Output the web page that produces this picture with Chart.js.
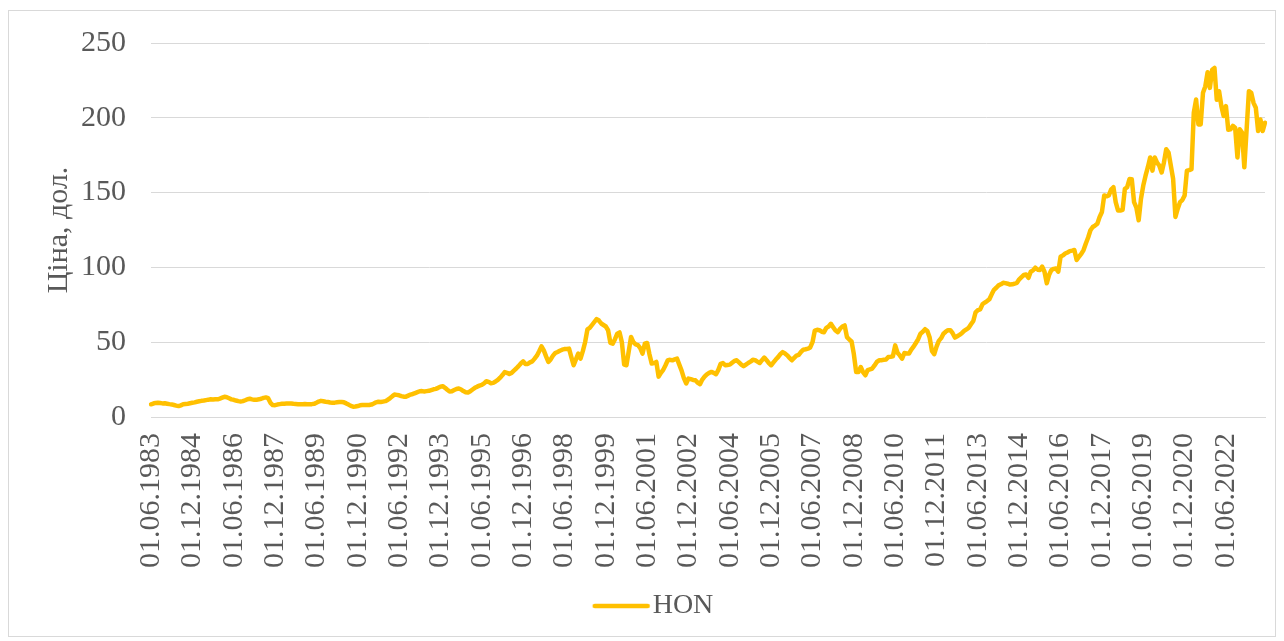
<!DOCTYPE html>
<html lang="uk">
<head>
    <meta charset="UTF-8">
    <title>HON</title>
    <script src="https://cdn.jsdelivr.net/npm/chart.js"></script>
    <style>
        html, body {
            margin: 0;
            padding: 0;
            background: #ffffff;
        }
        .chart-wrapper {
            position: relative;
            width: 1284px;
            height: 641px;
        }
    </style>
</head>
<body>
    <div class="chart-wrapper">
        <canvas id="hon-chart" width="1284" height="641"></canvas>
    </div>

    <script>
        // Перший місяць ряду та крок підписів осі X
        const firstYear = 1983;
        const firstMonth = 6;
        const labelEvery = 18;

        const seriesName = 'HON';
        const yTitle = 'Ціна, дол.';
        const yTicks = [0, 50, 100, 150, 200, 250];

        // Місячні ціни, по 12 значень у рядку (червень - травень)
        const price = [
            8.5, 9.0, 9.4, 9.5, 9.3, 9.1, 9.2, 8.9, 8.6, 8.4, 8.0, 7.6,
            7.3, 7.8, 8.5, 8.7, 8.9, 9.2, 9.5, 9.8, 10.2, 10.5, 10.8, 11.0,
            11.3, 11.6, 11.8, 11.7, 11.9, 11.8, 12.3, 12.9, 13.5, 13.2, 12.5, 11.8,
            11.5, 11.0, 10.6, 10.4, 10.6, 11.2, 11.9, 12.2, 11.8, 11.5, 11.6, 11.8,
            12.2, 12.8, 13.1, 12.6, 9.5, 8.0, 7.9, 8.3, 8.6, 8.8, 8.9, 9.0,
            9.1, 9.0, 8.8, 8.7, 8.6, 8.5, 8.6, 8.7, 8.6, 8.5, 8.6, 8.8,
            9.5, 10.3, 10.8, 10.5, 10.2, 10.0, 9.7, 9.5, 9.6, 9.8, 10.0, 10.0,
            9.8, 9.1, 8.3, 7.4, 6.9, 7.0, 7.3, 7.8, 8.0, 8.0, 8.1, 8.0,
            8.3, 9.0, 9.8, 10.2, 10.0, 10.3, 10.6, 11.4, 12.5, 13.8, 15.0, 14.8,
            14.5, 14.0, 13.6, 13.6, 14.3, 15.0, 15.4, 16.0, 16.6, 17.2, 17.3, 17.1,
            17.3, 17.5, 18.0, 18.5, 18.8, 19.5, 20.3, 20.6, 19.5, 18.2, 17.0, 17.2,
            18.0, 18.7, 19.1, 18.4, 17.3, 16.5, 16.3, 17.2, 18.4, 19.5, 20.3, 21.0,
            21.5, 22.5, 23.9, 23.5, 22.6, 22.8, 23.7, 24.8, 26.3, 28.0, 30.0, 29.5,
            28.8, 29.5, 31.0, 32.4, 34.0, 35.8, 37.2, 35.5, 35.4, 36.5, 37.2, 39.0,
            41.0, 44.0, 47.2, 44.5, 40.5, 36.8, 38.5, 41.0, 42.8, 43.5, 44.3, 45.0,
            45.4, 45.5, 45.7, 40.0, 34.6, 38.5, 42.4, 39.0, 44.0, 50.0, 58.5, 59.5,
            61.5, 63.5, 65.5, 64.5, 62.5, 61.5, 60.5, 58.0, 49.5, 49.0, 52.0, 55.7,
            56.5, 50.0, 35.0, 34.6, 44.0, 53.5, 50.0, 48.5, 48.0, 46.0, 42.4, 49.0,
            49.5, 42.0, 35.7, 36.0, 36.8, 27.0, 29.5, 31.5, 34.6, 38.0, 38.2, 37.9,
            38.5, 39.0, 35.0, 31.0, 26.0, 22.4, 25.7, 25.3, 24.8, 24.6, 23.0, 21.9,
            25.0, 27.0, 28.5, 29.5, 30.1, 29.5, 28.6, 31.5, 35.5, 36.1, 34.6, 34.8,
            35.0, 36.3, 37.5, 37.9, 36.5, 35.0, 33.9, 35.0, 36.1, 37.0, 38.2, 38.0,
            37.0, 36.1, 38.0, 39.7, 38.0, 36.0, 34.6, 36.5, 38.4, 40.0, 42.0, 43.4,
            42.5, 41.2, 39.5, 37.9, 39.5, 41.0, 41.5, 43.5, 45.0, 45.3, 45.7, 46.5,
            50.0, 57.8, 58.3, 58.0, 57.0, 56.7, 59.6, 60.5, 62.3, 60.0, 57.8, 56.7,
            59.0, 60.5, 61.2, 53.4, 51.8, 50.5, 42.0, 30.1, 30.1, 33.4, 30.0, 27.9,
            31.3, 31.8, 32.4, 34.5, 36.8, 37.9, 38.0, 38.2, 38.4, 40.1, 40.3, 40.6,
            47.9, 43.0, 41.2, 39.0, 42.8, 42.5, 42.4, 45.0, 47.0, 49.5, 52.0, 55.7,
            57.0, 58.7, 57.5, 53.1, 44.2, 42.0, 47.0, 50.9, 52.7, 55.7, 57.0, 58.0,
            58.0, 56.0, 53.1, 54.0, 54.9, 56.0, 57.5, 58.5, 59.7, 62.0, 64.2, 70.0,
            71.5, 72.0, 75.3, 76.5, 77.5, 78.7, 82.0, 85.0, 86.4, 88.0, 88.7, 89.7,
            89.5, 89.1, 88.5, 88.7, 89.2, 89.7, 92.0, 93.5, 94.9, 95.3, 93.0, 97.1,
            98.0, 99.8, 98.5, 98.3, 100.5, 97.1, 89.4, 95.0, 98.3, 99.0, 99.3, 97.1,
            107.1, 108.0, 109.3, 110.0, 110.9, 111.2, 111.6, 104.9, 107.1, 109.0, 111.6, 116.0,
            120.0, 124.8, 127.0, 128.0, 129.2, 133.7, 137.0, 148.1, 147.5, 148.1, 152.0, 153.6,
            143.6, 138.1, 138.0, 138.5, 152.5, 153.6, 159.1, 159.0, 143.6, 140.0, 131.5, 145.8,
            154.7, 161.3, 167.0, 173.5, 164.7, 173.5, 170.0, 168.0, 163.5, 170.2, 179.0, 176.8,
            168.0, 159.1, 133.7, 139.2, 143.6, 145.0, 148.1, 164.7, 165.0, 165.7, 203.4, 212.2,
            195.6, 195.6, 216.7, 221.0, 230.4, 220.0, 232.1, 233.3, 212.0, 217.8, 207.8, 201.2,
            207.8, 192.0, 192.3, 194.6, 193.4, 173.5, 192.3, 190.1, 166.9, 192.3, 217.8, 216.7,
            210.0, 206.7, 191.2, 198.9, 191.2, 196.7
        ];

        // Підписи категорій: 01.ММ.РРРР для кожного місяця
        const categories = price.map(function(_, i) {
            const t = firstYear * 12 + (firstMonth - 1) + i;
            const mm = String(t % 12 + 1).padStart(2, '0');
            return '01.' + mm + '.' + Math.floor(t / 12);
        });

        const lineColor = '#FFC000';
        const textColor = '#595959';
        const gridColor = '#d9d9d9';
        const fontFamily = "'Liberation Serif', 'Times New Roman', serif";

        // Значок легенди: коротка лінія, зсунута ближче до тексту
        const legendMark = document.createElement('canvas');
        legendMark.width = 80;
        legendMark.height = 8;
        const lm = legendMark.getContext('2d');
        lm.strokeStyle = lineColor;
        lm.lineWidth = 4.5;
        lm.lineCap = 'round';
        lm.beginPath();
        lm.moveTo(19, 4);
        lm.lineTo(72, 4);
        lm.stroke();

        // Рамка навколо всієї діаграми
        const frame = {
            id: 'frame',
            beforeDraw(chart) {
                const ctx = chart.ctx;
                ctx.save();
                ctx.fillStyle = '#ffffff';
                ctx.fillRect(0, 0, chart.width, chart.height);
                ctx.strokeStyle = gridColor;
                ctx.lineWidth = 1;
                ctx.strokeRect(8.5, 10.5, 1267, 626);
                ctx.restore();
            }
        };

        const ctx = document.getElementById('hon-chart').getContext('2d');

        new Chart(ctx, {
            type: 'line',
            data: {
                labels: categories,
                datasets: [{
                    label: seriesName,
                    data: price,
                    borderColor: lineColor,
                    backgroundColor: lineColor,
                    borderWidth: 4.5,
                    borderCapStyle: 'round',
                    borderJoinStyle: 'round',
                    pointRadius: 0,
                    pointHoverRadius: 0,
                    tension: 0,
                    fill: false
                }]
            },
            options: {
                responsive: false,
                animation: false,
                devicePixelRatio: 1,
                layout: {
                    padding: { left: 41, right: 19, top: 38, bottom: 11 }
                },
                plugins: {
                    tooltip: { enabled: false },
                    legend: {
                        position: 'bottom',
                        labels: {
                            usePointStyle: true,
                            pointStyle: legendMark,
                            pointStyleWidth: 46,
                            color: textColor,
                            font: { family: fontFamily, size: 28 },
                            padding: 10
                        }
                    }
                },
                scales: {
                    x: {
                        type: 'category',
                        grid: { display: false, drawTicks: false },
                        border: { display: true, color: gridColor, width: 1 },
                        ticks: {
                            autoSkip: false,
                            maxRotation: 90,
                            minRotation: 90,
                            padding: 16,
                            color: textColor,
                            font: { family: fontFamily, size: 30 },
                            callback: function(value, index) {
                                return index % labelEvery === 0 ? categories[index] : null;
                            }
                        },
                        afterFit: function(scale) {
                            scale.height = 165;
                        }
                    },
                    y: {
                        min: yTicks[0],
                        max: yTicks[yTicks.length - 1],
                        afterBuildTicks: function(scale) {
                            scale.ticks = yTicks.map(function(v) { return { value: v }; });
                        },
                        grid: { color: gridColor, lineWidth: 1, drawTicks: false },
                        border: { display: false },
                        ticks: {
                            padding: 25,
                            color: textColor,
                            font: { family: fontFamily, size: 30 }
                        },
                        title: {
                            display: true,
                            text: yTitle,
                            color: textColor,
                            font: { family: fontFamily, size: 30 },
                            padding: 0
                        },
                        afterFit: function(scale) {
                            scale.width = 110;
                        }
                    }
                }
            },
            plugins: [frame]
        });
    </script>
</body>
</html>
